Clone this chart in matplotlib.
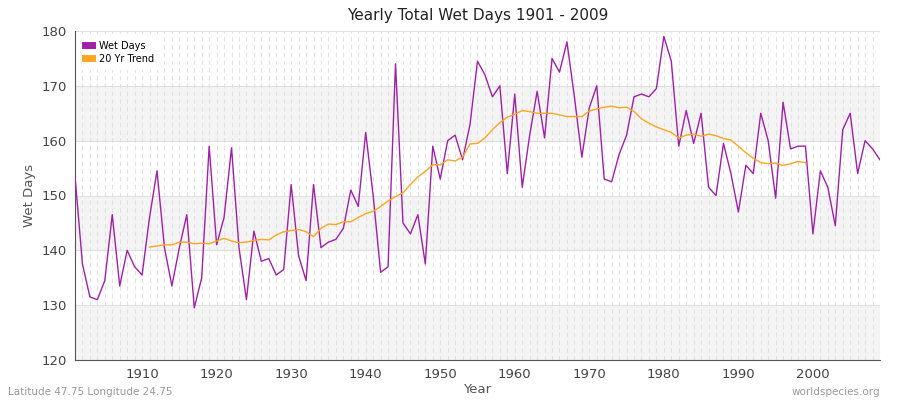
import matplotlib
matplotlib.use("Agg")
import matplotlib.pyplot as plt
import numpy as np

years = list(range(1901, 2010))
wet_days = [153.5,137.5,131.5,131,134.5,146.5,133.5,140,137,135.5,
146,154.5,140.5,133.5,140.5,146.5,129.5,135,159,141,
146,158.7,140.5,131,143.5,138,138.5,135.5,136.5,152,
139,134.5,152,140.5,141.5,142,144,151,148,161.5,
150,136,137,174,145,143,146.5,137.5,159,153,
160,161,156.5,163,174.5,172,168,170,154,168.5,
151.5,161,169,160.5,175,172.5,178,168,157,166,
170,153,152.5,157.5,161,168,168.5,168,169.5,179,
174.5,159,165.5,159.5,165,151.5,150,159.5,154,147,
155.5,154,165,160,149.5,167,158.5,159,159,143,
154.5,151.5,144.5,162,165,154,160,158.5,156.5]
trend_years = list(range(1911, 2000))
trend = [140.6,140.8,141,141,141.5,141.5,141.2,141.3,141.2,141.7,
142.2,141.7,141.4,141.5,141.8,142,141.9,142.8,143.4,143.6,
143.8,143.4,142.5,144,144.8,144.7,145.2,145.2,146,146.7,
147.1,148,149,149.8,150.5,152,153.4,154.4,155.6,155.6,
156.5,156.3,157,159.4,159.5,160.5,162,163.3,164.3,164.8,
165.5,165.3,165,165,165,164.7,164.4,164.4,164.4,165.4,
165.8,166.1,166.3,166,166.1,165.3,164,163.2,162.5,162,
161.5,160.5,161,161.2,160.8,161.2,160.9,160.4,160.1,159,
157.8,156.8,156,155.8,155.9,155.5,155.8,156.2,156]
xticks = [1910,1920,1930,1940,1950,1960,1970,1980,1990,2000]
yticks = [120,130,140,150,160,170,180]

fig = plt.figure(figsize=(9,4), dpi=100)
ax = fig.add_axes([75/900, 1-360/400, 805/900, 329/400])
for lo in range(120, 180, 20):
    ax.axhspan(lo, lo+10, color="#f4f4f4", zorder=0, lw=0)
for y in years:
    ax.axvline(y, color="#e2e2e2", lw=0.8, ls=(0,(4,3)), zorder=1)
for y in yticks:
    ax.axhline(y, color="#e0e0e0", lw=0.8, zorder=1)
ax.plot(years, wet_days, color="#a020a8", lw=1, label="Wet Days", zorder=3)
ax.plot(trend_years, trend, color="#ffa520", lw=1, label="20 Yr Trend", zorder=3)
ax.set_xlim(1901, 2009)
ax.set_ylim(120, 180)
ax.set_xticks(xticks)
ax.set_yticks(yticks)
ax.tick_params(colors="#444444", labelsize=9.5, length=0, pad=6)
for s in ["top","right"]:
    ax.spines[s].set_visible(False)
ax.spines["left"].set_color("#555555")
ax.spines["bottom"].set_color("#555555")
ax.set_xlabel("Year", color="#555555", fontsize=9.5, labelpad=1)
ax.set_ylabel("Wet Days", color="#555555", fontsize=9.5)
ax.set_title("Yearly Total Wet Days 1901 - 2009", fontsize=11, color="#222222", pad=8)
leg = ax.legend(loc="upper left", fontsize=7, frameon=True, handlelength=0.7, handleheight=0.7,
                borderpad=0.5, labelspacing=0.3, framealpha=1, edgecolor="#ffffff")
for h in leg.legend_handles:
    h.set_linewidth(5)
fig.text(8/900, 1-392/400, "Latitude 47.75 Longitude 24.75", fontsize=7.5, color="#999999", va="center")
fig.text(880/900, 1-392/400, "worldspecies.org", fontsize=7.5, color="#999999", va="center", ha="right")
fig.savefig("out.png", dpi=100)
